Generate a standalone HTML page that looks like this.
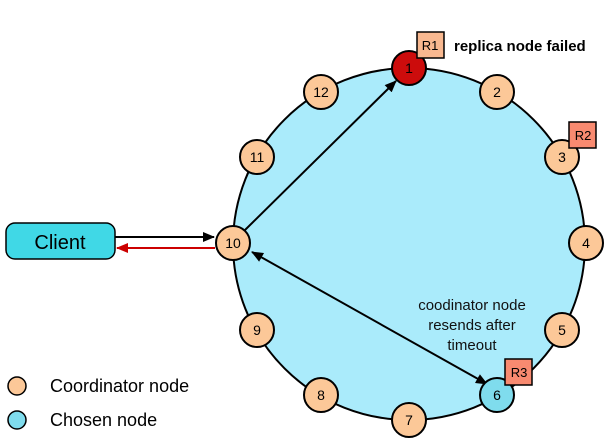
<!DOCTYPE html>
<html><head><style>body{margin:0;background:#fff}svg{display:block}text{font-family:"Liberation Sans",Arial,sans-serif}</style></head><body>
<svg width="609" height="443" viewBox="0 0 609 443">
<defs>
<marker id="a" markerWidth="12" markerHeight="10" refX="11" refY="5" orient="auto" markerUnits="userSpaceOnUse"><path d="M0,0L12,5L0,10z" fill="#000"/></marker>
<marker id="ar" markerWidth="12" markerHeight="10" refX="11" refY="5" orient="auto" markerUnits="userSpaceOnUse"><path d="M0,0L12,5L0,10z" fill="#c00"/></marker>
<marker id="as" markerWidth="12" markerHeight="10" refX="1" refY="5" orient="auto" markerUnits="userSpaceOnUse"><path d="M12,0L0,5L12,10z" fill="#000"/></marker>
</defs>
<circle cx="409" cy="244" r="176" fill="#aaebfb" stroke="#000" stroke-width="2"/>
<line x1="245" y1="230" x2="396" y2="81" stroke="#000" stroke-width="2" marker-end="url(#a)"/>
<line x1="252" y1="252" x2="487" y2="384" stroke="#000" stroke-width="2" marker-end="url(#a)" marker-start="url(#as)"/>
<rect x="6" y="223" width="109" height="36" rx="9" fill="#40d8e6" stroke="#000" stroke-width="1.5"/>
<text x="60" y="249" font-size="20" text-anchor="middle">Client</text>
<line x1="115" y1="237" x2="214" y2="237" stroke="#000" stroke-width="2" marker-end="url(#a)"/>
<line x1="215" y1="248" x2="117" y2="248" stroke="#c00" stroke-width="2" marker-end="url(#ar)"/>
<g stroke="#000" stroke-width="2">
<circle cx="409" cy="68" r="17" fill="#cc0c0c"/>
<circle cx="497" cy="92" r="17" fill="#fcc898"/>
<circle cx="562" cy="157" r="17" fill="#fcc898"/>
<circle cx="586" cy="243" r="17" fill="#fcc898"/>
<circle cx="562" cy="330" r="17" fill="#fcc898"/>
<circle cx="497" cy="395" r="17" fill="#7fdced"/>
<circle cx="409" cy="420" r="17" fill="#fcc898"/>
<circle cx="321" cy="395" r="17" fill="#fcc898"/>
<circle cx="257" cy="330" r="17" fill="#fcc898"/>
<circle cx="233" cy="243" r="17" fill="#fcc898"/>
<circle cx="257" cy="157" r="17" fill="#fcc898"/>
<circle cx="321" cy="92" r="17" fill="#fcc898"/>
</g>
<g font-size="14" text-anchor="middle">
<text x="409" y="73">1</text><text x="497" y="97">2</text><text x="562" y="162">3</text><text x="586" y="248">4</text><text x="562" y="335">5</text><text x="497" y="400">6</text><text x="409" y="425">7</text><text x="321" y="400">8</text><text x="257" y="335">9</text><text x="233" y="248">10</text><text x="257" y="162">11</text><text x="321" y="97">12</text>
</g>
<g stroke="#000" stroke-width="1.5" fill="#f88a70">
<rect x="417" y="32" width="27" height="26" fill="#f8b890"/>
<rect x="569" y="122" width="27" height="26"/>
<rect x="505" y="359" width="27" height="26"/>
</g>
<g font-size="13" text-anchor="middle">
<text x="430" y="50">R1</text><text x="583" y="140">R2</text><text x="519" y="377">R3</text>
</g>
<text x="454" y="51" font-size="15" font-weight="bold">replica node failed</text>
<g font-size="15" text-anchor="middle" fill="#111">
<text x="472" y="310">coodinator node</text>
<text x="472" y="330">resends after</text>
<text x="472" y="350">timeout</text>
</g>
<circle cx="17" cy="386" r="9" fill="#fcc898" stroke="#000" stroke-width="1.5"/>
<circle cx="17" cy="420" r="9" fill="#7fdced" stroke="#000" stroke-width="1.5"/>
<text x="50" y="392" font-size="18">Coordinator node</text>
<text x="50" y="426" font-size="18">Chosen node</text>
</svg>
</body></html>
